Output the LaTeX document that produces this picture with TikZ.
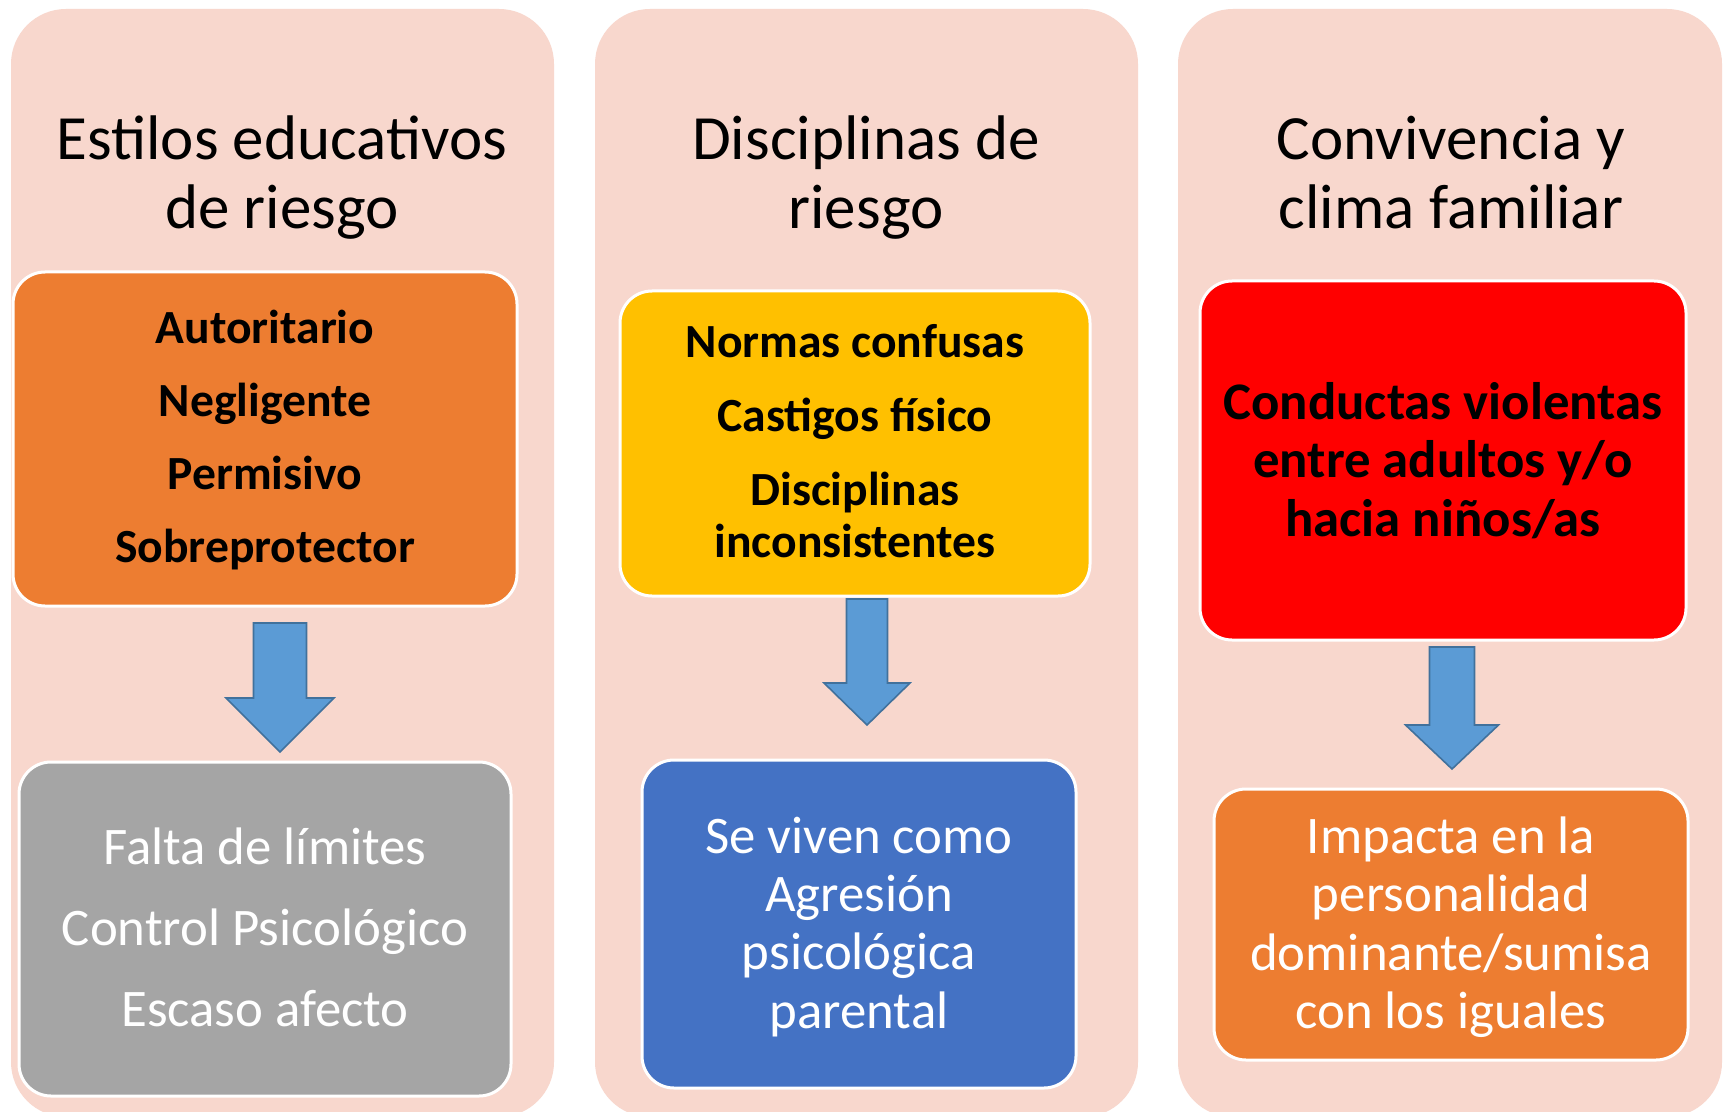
\documentclass[tikz,border=0pt]{standalone}
\usepackage{fontspec}
\setmainfont{Carlito}
\usepackage{xcolor}

\definecolor{panelpink}{HTML}{F8D7CD}
\definecolor{boxorange}{HTML}{ED7D31}
\definecolor{boxgray}{HTML}{A5A5A5}
\definecolor{boxyellow}{HTML}{FFC000}
\definecolor{boxblue}{HTML}{4472C4}
\definecolor{boxred}{HTML}{FF0000}
\definecolor{arrowblue}{HTML}{5B9BD5}
\definecolor{arrowedge}{HTML}{41719C}

\begin{document}
\begin{tikzpicture}[x=0.5pt,y=-0.5pt,
    panel/.style={fill=panelpink, rounded corners=27.5pt},
    title/.style={align=center, inner sep=0pt, font=\fontsize{31.5}{34.3}\selectfont},
    box/.style={draw=white, line width=1.5pt, rounded corners=16pt, inner sep=0pt, align=center},
    boldtext/.style={font=\fontsize{23.8}{26}\selectfont\bfseries, text=black},
    whitetext/.style={font=\fontsize{26.4}{29.2}\selectfont, text=white},
    blockarrow/.style={fill=arrowblue, draw=arrowedge, line width=0.8pt, line join=miter}]
    \useasboundingbox (0,0) rectangle (1727,1112);
    \fill[white] (0,0) rectangle (1727,1112);
    % panels
    \fill[panel] (11,9) rectangle (554,1117);
    \fill[panel] (595,9) rectangle (1138,1117);
    \fill[panel] (1178,9) rectangle (1722,1117);
    %
    \node[title] (t1) at (282,177.5) {Estilos educativos\\de riesgo};
    \node[title] (t2) at (866,177.5) {Disciplinas de\\riesgo};
    \node[title] (t3) at (1451,177.5) {Convivencia y\\clima familiar\vphantom{g}};
    % first column
    \node[box, fill=boxorange, boldtext, minimum width=252pt, minimum height=167pt] (b1) at (265,439)
    {\rule{0pt}{18pt}Autoritario\\[10.5pt] Negligente\\[10.5pt] Permisivo\\[10.5pt] Sobreprotector};
    \node[box, fill=boxgray, whitetext, minimum width=246pt, minimum height=167pt] (c1) at (265,929)
    {Falta de límites\\[11.3pt] Control Psicológico\\[11.3pt] Escaso afecto\rule[-2.2pt]{0pt}{2.2pt}};
    \draw[blockarrow] (253.5,623) -- (306.5,623) -- (306.5,698) -- (334,698) -- (280,752)
    -- (226,698) -- (253.5,698) -- cycle;
    % second column
    \node[box, fill=boxyellow, boldtext, minimum width=235pt, minimum height=152.5pt] (b2) at (855,443.5)
    {Normas confusas\\[11pt] Castigos físico\\[11pt] Disciplinas\\ inconsistentes\rule[-2.2pt]{0pt}{2.2pt}};
    \node[box, fill=boxblue, whitetext, minimum width=217pt, minimum height=164pt] (c2) at (859,924)
    {\rule{0pt}{21pt}Se viven como\\ Agresión\\ psicológica\\ parental};
    \draw[blockarrow] (846.5,599) -- (887.5,599) -- (887.5,683) -- (910,683) -- (867,725)
    -- (824,683) -- (846.5,683) -- cycle;
    % third column
    \node[box, fill=boxred, boldtext, font=\fontsize{26.4}{29.2}\selectfont\bfseries,
    minimum width=243pt, minimum height=179.5pt] (b3) at (1443,460.5)
    {Conductas violentas\\ entre adultos y/o\\ hacia niños/as};
    \node[box, fill=boxorange, whitetext, minimum width=237pt, minimum height=135.5pt] (c3) at (1451,924.5)
    {\rule{0pt}{21pt}Impacta en la\\ personalidad\\ dominante/sumisa\\ con los iguales};
    \draw[blockarrow] (1429.5,647) -- (1474.5,647) -- (1474.5,725) -- (1498.5,725) -- (1452,769)
    -- (1405.5,725) -- (1429.5,725) -- cycle;
\end{tikzpicture}
\end{document}
